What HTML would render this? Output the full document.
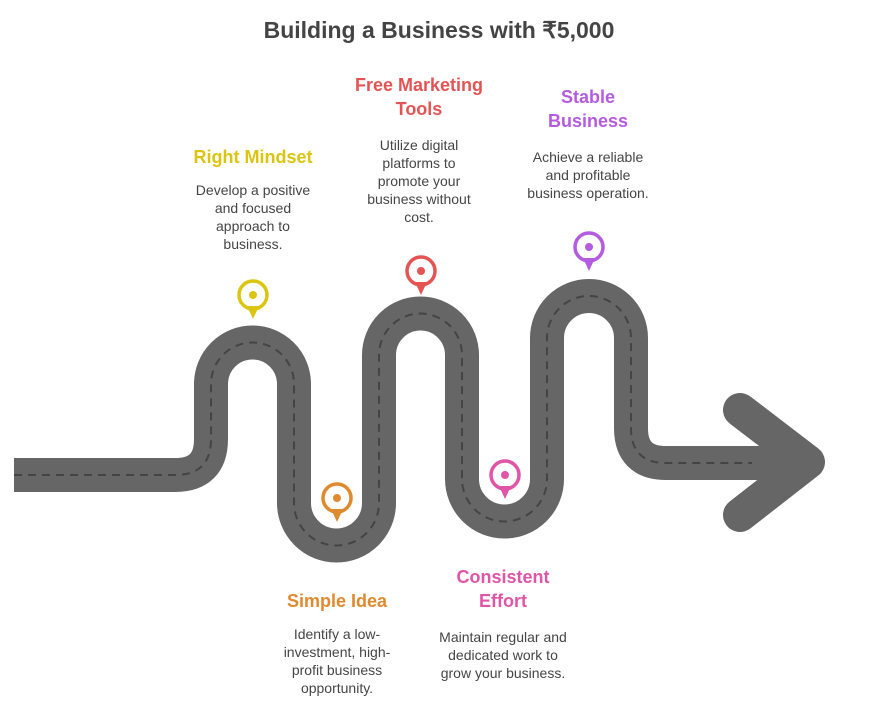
<!DOCTYPE html>
<html><head><meta charset="utf-8"><style>
html,body{margin:0;padding:0;background:#fff}
svg{display:block}
text{font-family:"Liberation Sans",sans-serif}
.t{font-weight:bold;font-size:18px;text-anchor:middle}
.b{font-size:14px;fill:#454545;text-anchor:middle}
</style></head><body>
<svg width="878" height="707" viewBox="0 0 878 707">
<text x="439" y="38" text-anchor="middle" font-size="23" font-weight="bold" fill="#444">Building a Business with ₹5,000</text>
<g fill="none" stroke="#666" stroke-width="34">
<path id="road" d="M14 475 H175 Q211 475 211 439 V384 A41.5 41.5 0 0 1 294 384 V503 A42.5 42.5 0 0 0 379 503 V355 A41.5 41.5 0 0 1 462 355 V479 A42.5 42.5 0 0 0 547 479 V338 A42 42 0 0 1 631 338 V428 Q631 463 666 463 H790"/>
<path d="M740 410 L808 462 L740 515" stroke-linecap="round" stroke-linejoin="round"/>
</g>
<path d="M14 475 H175 Q211 475 211 439 V384 A41.5 41.5 0 0 1 294 384 V503 A42.5 42.5 0 0 0 379 503 V355 A41.5 41.5 0 0 1 462 355 V479 A42.5 42.5 0 0 0 547 479 V338 A42 42 0 0 1 631 338 V428 Q631 463 666 463 H752" fill="none" stroke="#444" stroke-width="2" stroke-dasharray="8 6"/>
<g stroke-width="3.5" fill="none">
<g transform="translate(253,295)" stroke="#dcc510"><circle r="14"/><circle r="4" fill="#dcc510" stroke="none"/><path d="M-6 11 L0 24 L6 11Z" fill="#dcc510" stroke="none"/></g>
<g transform="translate(337,498)" stroke="#e08a30"><circle r="14"/><circle r="4" fill="#e08a30" stroke="none"/><path d="M-6 11 L0 24 L6 11Z" fill="#e08a30" stroke="none"/></g>
<g transform="translate(421,271)" stroke="#e45454"><circle r="14"/><circle r="4" fill="#e45454" stroke="none"/><path d="M-6 11 L0 24 L6 11Z" fill="#e45454" stroke="none"/></g>
<g transform="translate(505,475)" stroke="#e055a8"><circle r="14"/><circle r="4" fill="#e055a8" stroke="none"/><path d="M-6 11 L0 24 L6 11Z" fill="#e055a8" stroke="none"/></g>
<g transform="translate(589,247)" stroke="#b45be0"><circle r="14"/><circle r="4" fill="#b45be0" stroke="none"/><path d="M-6 11 L0 24 L6 11Z" fill="#b45be0" stroke="none"/></g>
</g>
<text class="t" x="253" y="163" fill="#dcc510">Right Mindset</text>
<text class="b" x="253" y="195">Develop a positive</text>
<text class="b" x="253" y="213">and focused</text>
<text class="b" x="253" y="231">approach to</text>
<text class="b" x="253" y="249">business.</text>
<text class="t" x="419" y="91" fill="#e45454">Free Marketing</text>
<text class="t" x="419" y="115" fill="#e45454">Tools</text>
<text class="b" x="419" y="150">Utilize digital</text>
<text class="b" x="419" y="168">platforms to</text>
<text class="b" x="419" y="186">promote your</text>
<text class="b" x="419" y="204">business without</text>
<text class="b" x="419" y="222">cost.</text>
<text class="t" x="588" y="103" fill="#b45be0">Stable</text>
<text class="t" x="588" y="127" fill="#b45be0">Business</text>
<text class="b" x="588" y="162">Achieve a reliable</text>
<text class="b" x="588" y="180">and profitable</text>
<text class="b" x="588" y="198">business operation.</text>
<text class="t" x="337" y="607" fill="#e08a30">Simple Idea</text>
<text class="b" x="337" y="639">Identify a low-</text>
<text class="b" x="337" y="657">investment, high-</text>
<text class="b" x="337" y="675">profit business</text>
<text class="b" x="337" y="693">opportunity.</text>
<text class="t" x="503" y="583" fill="#e055a8">Consistent</text>
<text class="t" x="503" y="607" fill="#e055a8">Effort</text>
<text class="b" x="503" y="642">Maintain regular and</text>
<text class="b" x="503" y="660">dedicated work to</text>
<text class="b" x="503" y="678">grow your business.</text>
</svg>
</body></html>
